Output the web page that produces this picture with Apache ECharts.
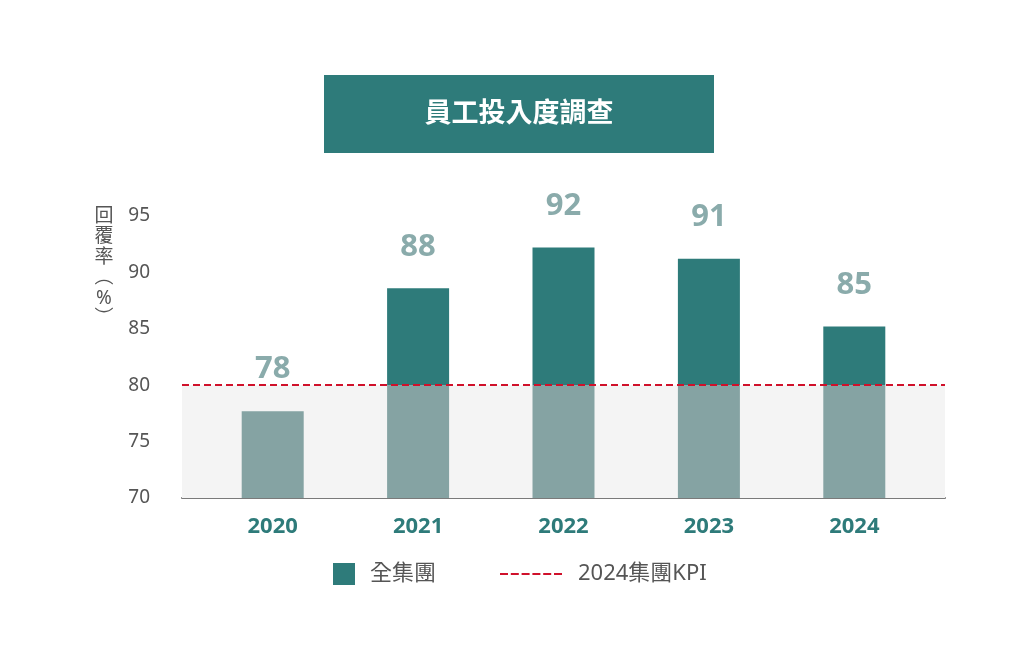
<!DOCTYPE html>
<html>
<head>
<meta charset="utf-8">
<script src="https://cdn.jsdelivr.net/npm/echarts@6/dist/echarts.min.js"></script>
<style>
html,body{margin:0;padding:0;background:#fff;}
#c{width:1024px;height:652px;}
</style>
</head>
<body>
<div id="c"></div>
<script>
var categories = ['2020', '2021', '2022', '2023', '2024'];
var values = [77.7, 88.6, 92.2, 91.2, 85.2];
var valueLabels = ['78', '88', '92', '91', '85'];
var kpi = 80;
var yTicks = [70, 75, 80, 85, 90, 95];
var titleText = '員工投入度調查';
var yAxisName = '回\n覆\n率\n︵\n%\n︶';
var seriesName = '全集團';
var kpiName = '2024集團KPI';

var below = values.map(function (v) { return Math.min(v, kpi); });
var above = values.map(function (v) { return Math.max(v - kpi, 0); });

var FONT = "'Noto Sans', 'Noto Sans CJK TC', sans-serif";
var yMin = yTicks[0], yMax = yTicks[yTicks.length - 1];
var chart = echarts.init(document.getElementById('c'), null, {renderer: 'canvas'});
chart.setOption({
  animation: false,
  textStyle: {fontFamily: FONT},
  grid: [
    {left: 182, right: 79, top: 216, bottom: 154, containLabel: false},
    {left: 200, right: 97, top: 216, bottom: 154, containLabel: false}
  ],
  graphic: [
    {type: 'rect', left: 324, top: 75, shape: {width: 390, height: 78}, style: {fill: '#2e7b7a'}},
    {type: 'text', x: 519, y: 114, style: {text: titleText, fill: '#fff', font: "bold 27px " + FONT, textAlign: 'center', textVerticalAlign: 'middle'}},
    {type: 'text', x: 104, y: 206, style: {text: yAxisName, fill: '#555', font: "19px " + FONT, textAlign: 'center', lineHeight: 20.5}}
  ],
  legend: [
    {left: 333, top: 563, padding: 0, itemWidth: 22, itemHeight: 22, data: [{name: seriesName, icon: 'rect'}],
     textStyle: {fontSize: 22, color: '#555', fontFamily: FONT, padding: [0, 0, 0, 10]}, selectedMode: false},
    {left: 500, top: 563, padding: 0, itemWidth: 62, itemHeight: 2,
     data: [{name: kpiName, icon: 'path://M0,0h8v2h-8z M10.8,0h8v2h-8z M21.6,0h8v2h-8z M32.4,0h8v2h-8z M43.2,0h8v2h-8z M54,0h8v2h-8z',
             itemStyle: {color: '#d0112b'}}],
     textStyle: {fontSize: 22, color: '#555', fontFamily: FONT, padding: [0, 0, 0, 11]}, selectedMode: false}
  ],
  xAxis: [
    {type: 'category', gridIndex: 0, data: categories,
     axisLine: {lineStyle: {color: '#7a7a7a', width: 2}}, axisTick: {show: false}, axisLabel: {show: false}},
    {type: 'category', gridIndex: 1, data: categories,
     axisLine: {show: false}, axisTick: {show: false},
     axisLabel: {color: '#2e7b7a', fontWeight: 'bold', fontSize: 22, margin: 18, fontFamily: FONT}}
  ],
  yAxis: [
    {type: 'value', gridIndex: 0, min: yMin, max: yMax, interval: 5,
     axisLine: {show: false}, axisTick: {show: false}, splitLine: {show: false},
     axisLabel: {color: '#555', fontSize: 19, margin: 32, fontFamily: FONT}},
    {type: 'value', gridIndex: 1, min: yMin, max: yMax, interval: 5, show: false, splitLine: {show: false}}
  ],
  series: [
    {type: 'line', name: 'bg', xAxisIndex: 0, yAxisIndex: 0, data: [], z: 0, silent: true,
     markArea: {silent: true, itemStyle: {color: '#f4f4f4'}, data: [[{yAxis: yMin}, {yAxis: kpi}]]}},
    {type: 'bar', name: 'below', xAxisIndex: 1, yAxisIndex: 1, stack: 's', data: below, barWidth: 62, itemStyle: {color: '#85a3a3'}, z: 2, silent: true},
    {type: 'bar', name: seriesName, xAxisIndex: 1, yAxisIndex: 1, stack: 's', data: above, barWidth: 62, itemStyle: {color: '#2e7b7a'}, z: 2, silent: true},
    {type: 'bar', name: 'labels', xAxisIndex: 1, yAxisIndex: 1, data: values, barWidth: 62, barGap: '-100%', itemStyle: {color: 'rgba(0,0,0,0)'}, z: 3, silent: true,
     label: {show: true, position: 'top', distance: 26, color: '#8aabab', fontSize: 31, fontWeight: 'bold', fontFamily: FONT,
       formatter: function (p) { return valueLabels[p.dataIndex]; }}},
    {type: 'line', name: kpiName, xAxisIndex: 0, yAxisIndex: 0, data: [], symbol: 'none', z: 5, color: '#d0112b',
     lineStyle: {color: '#d0112b', type: 'dashed', width: 2},
     markLine: {silent: true, symbol: 'none', label: {show: false},
       lineStyle: {color: '#d0112b', type: [7, 4], width: 2}, data: [{yAxis: kpi}]}}
  ]
});
</script>
</body>
</html>
